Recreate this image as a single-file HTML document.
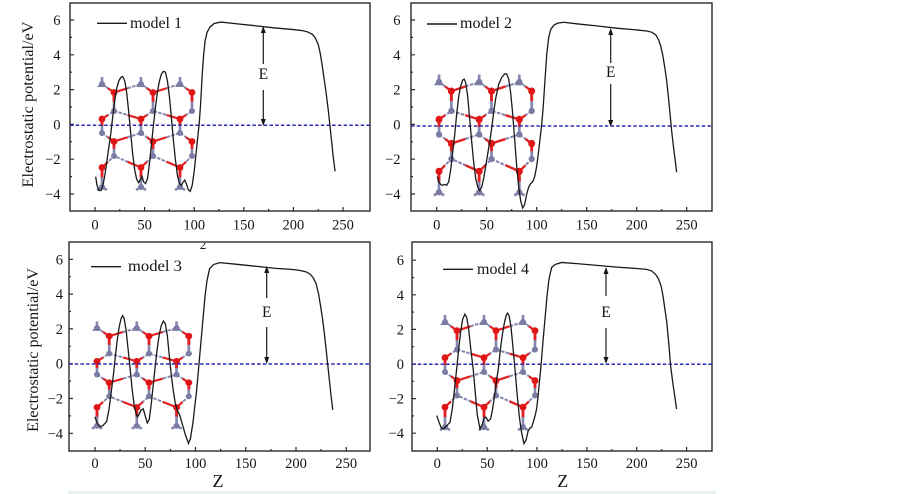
<!DOCTYPE html>
<html><head><meta charset="utf-8"><style>html,body{margin:0;padding:0;background:#fff;}svg{display:block}</style></head>
<body>
<svg width="903" height="494" viewBox="0 0 903 494" xmlns="http://www.w3.org/2000/svg" font-family="'Liberation Serif', serif" fill="#151515">
<defs>
<g id="mol">
<path d="M0,0 L12,8.5 L39,0 L51,8.5 L78,0 L90,8.5 M0,35 L12,27 L39,35 L51,27 L78,35 L90,27 M0,49 L12,57.5 L39,49 L51,57.5 L78,49 L90,57.5 M0,83.5 L12,72 L39,83.5 L51,72 L78,83.5 L90,72" fill="none" stroke="#8587b0" stroke-width="2" stroke-dasharray="3.5,1.3"/>
<path d="M12,8.5 V27 M51,8.5 V27 M90,8.5 V27 M0,35 V49 M39,35 V49 M78,35 V49 M12,57.5 V72 M51,57.5 V72 M90,57.5 V72 M0,83.5 V103 M39,83.5 V103 M78,83.5 V103 M0,0 V-7 M39,0 V-7 M78,0 V-7 M-5,106 L0,103 L5,106 M34,106 L39,103 L44,106 M73,106 L78,103 L83,106" fill="none" stroke="#8587b0" stroke-width="2.6"/>
<path d="M6,4.25 L12,8.5 L25.5,4.25 M45,4.25 L51,8.5 L64.5,4.25 M84,4.25 L90,8.5 M0,35 L6,31 M25.5,31 L39,35 L45,31 M64.5,31 L78,35 L84,31 M6,53.25 L12,57.5 L25.5,53.25 M45,53.25 L51,57.5 L64.5,53.25 M84,53.25 L90,57.5 M0,83.5 L6,77.75 M25.5,77.75 L39,83.5 L45,77.75 M64.5,77.75 L78,83.5 L84,77.75" fill="none" stroke="#e42020" stroke-width="2.2"/>
<path d="M12,8.5 V17.75 M51,8.5 V17.75 M90,8.5 V17.75 M0,35 V42 M39,35 V42 M78,35 V42 M12,57.5 V64.75 M51,57.5 V64.75 M90,57.5 V64.75 M0,83.5 V93.25 M39,83.5 V93.25 M78,83.5 V93.25" fill="none" stroke="#e42020" stroke-width="2.8"/>
<g fill="#7a7ca4">
<circle cx="0" cy="0" r="3"/><circle cx="39" cy="0" r="3"/><circle cx="78" cy="0" r="3"/>
<circle cx="12" cy="27" r="3"/><circle cx="51" cy="27" r="3"/><circle cx="90" cy="27" r="3"/>
<circle cx="0" cy="49" r="3"/><circle cx="39" cy="49" r="3"/><circle cx="78" cy="49" r="3"/>
<circle cx="12" cy="72" r="3"/><circle cx="51" cy="72" r="3"/><circle cx="90" cy="72" r="3"/>
<circle cx="0" cy="103" r="3"/><circle cx="39" cy="103" r="3"/><circle cx="78" cy="103" r="3"/>
<polygon points="-5,3 5,3 0,-3"/><polygon points="34,3 44,3 39,-3"/><polygon points="73,3 83,3 78,-3"/>
</g>
<g fill="#e01616">
<circle cx="12" cy="8.5" r="3.4"/><circle cx="51" cy="8.5" r="3.4"/><circle cx="90" cy="8.5" r="3.4"/>
<circle cx="0" cy="35" r="3.4"/><circle cx="39" cy="35" r="3.4"/><circle cx="78" cy="35" r="3.4"/>
<circle cx="12" cy="57.5" r="3.4"/><circle cx="51" cy="57.5" r="3.4"/><circle cx="90" cy="57.5" r="3.4"/>
<circle cx="0" cy="83.5" r="3.4"/><circle cx="39" cy="83.5" r="3.4"/><circle cx="78" cy="83.5" r="3.4"/>
</g>
</g>
<clipPath id="c2"><rect x="190" y="243" width="30" height="8"/></clipPath>
</defs>

<!-- ========== Panel 1 ========== -->
<rect x="70" y="3" width="300" height="208" fill="none" stroke="#2a2a2a" stroke-width="1.4"/>
<path d="M95,211V207 M144.6,211V207 M194.2,211V207 M243.8,211V207 M293.4,211V207 M343,211V207 M119.8,211V209 M169.4,211V209 M219,211V209 M268.6,211V209 M318.2,211V209 M70,20H74 M70,54.8H74 M70,89.6H74 M70,124.4H74 M70,159.2H74 M70,194H74 M70,37.4H72 M70,72.2H72 M70,107H72 M70,141.8H72 M70,176.6H72" stroke="#2a2a2a" stroke-width="1.2" fill="none"/>
<g font-size="14.5" text-anchor="end">
<text x="60.5" y="25">6</text><text x="60.5" y="59.8">4</text><text x="60.5" y="94.6">2</text><text x="60.5" y="129.4">0</text><text x="60.5" y="164.2">−2</text><text x="60.5" y="199">−4</text>
</g>
<g font-size="14.5" text-anchor="middle">
<text x="95" y="229.5">0</text><text x="144.6" y="229.5">50</text><text x="194.2" y="229.5">100</text><text x="243.8" y="229.5">150</text><text x="293.4" y="229.5">200</text><text x="343" y="229.5">250</text>
</g>
<text transform="translate(33,104.5) rotate(-90)" text-anchor="middle" font-size="15.5" textLength="166" lengthAdjust="spacingAndGlyphs">Electrostatic potential/eV</text>
<use href="#mol" transform="translate(102,84)"/>
<line x1="70" y1="125.3" x2="370" y2="125.3" stroke="#2b2bb5" stroke-width="1.5" stroke-dasharray="3.5,2.2"/>
<g transform="translate(95,124.4) scale(0.992,-17.4)">
<path fill="none" stroke="#1a1a1a" stroke-width="1.3" vector-effect="non-scaling-stroke" d="M0.7,-3.0 L2,-3.5 L4,-3.8 L6,-3.8 L8,-3.5 L10,-2.9 L12,-2.1 L14,-1.3 L16,-0.5 L18,0.5 L20,1.4 L22,2.1 L24,2.5 L26,2.7 L28,2.75 L30,2.5 L32,1.8 L34,0.7 L36,-0.5 L38,-1.7 L40,-2.6 L42,-3.15 L44,-3.35 L46,-3.15 L47.5,-3.0 L49,-3.3 L51,-3.4 L53,-3.1 L55,-2.2 L57,-1.1 L59,0 L61,1.0 L63,1.9 L65,2.5 L67,2.9 L69,3.05 L71,3.0 L73,2.5 L75,1.6 L77,0.4 L79,-0.9 L81,-2.0 L83,-2.9 L85,-3.4 L87,-3.5 L89,-3.3 L90.5,-3.2 L92,-3.4 L94,-3.75 L96,-3.85 L98,-3.5 L100,-2.7 L102,-1.6 L104,-0.5 L105,0 L106.5,1.2 L108,2.8 L109.5,4.0 L111,4.8 L113,5.3 L116,5.6 L120,5.8 L127,5.88 L140,5.8 L160,5.68 L180,5.55 L200,5.45 L210,5.38 L215,5.3 L219,5.18 L222,4.98 L225,4.6 L227,4.1 L229,3.4 L231,2.6 L233,1.8 L235,0.9 L236.5,0.1 L238,-0.7 L240,-1.8 L242,-2.7"/>
</g>
<line x1="97" y1="23.3" x2="127" y2="23.3" stroke="#1a1a1a" stroke-width="1.4"/>
<text x="130" y="28" font-size="15.5" textLength="52" lengthAdjust="spacingAndGlyphs">model 1</text>
<path d="M263.3,30V64 M263.3,90V122" stroke="#1a1a1a" stroke-width="1.2"/>
<polygon points="263.3,26 260.8,33 265.8,33"/><polygon points="263.3,126 260.8,119 265.8,119"/>
<text x="263.3" y="79" font-size="15.5" text-anchor="middle">E</text>

<!-- ========== Panel 2 ========== -->
<rect x="411" y="3" width="301" height="208" fill="none" stroke="#2a2a2a" stroke-width="1.4"/>
<path d="M436.7,211V207 M486.7,211V207 M536.7,211V207 M586.7,211V207 M636.7,211V207 M686.7,211V207 M461.7,211V209 M511.7,211V209 M561.7,211V209 M611.7,211V209 M661.7,211V209 M411,20H415 M411,54.8H415 M411,89.6H415 M411,124.4H415 M411,159.2H415 M411,194H415 M411,37.4H413 M411,72.2H413 M411,107H413 M411,141.8H413 M411,176.6H413" stroke="#2a2a2a" stroke-width="1.2" fill="none"/>
<g font-size="14.5" text-anchor="end">
<text x="400.5" y="25">6</text><text x="400.5" y="59.8">4</text><text x="400.5" y="94.6">2</text><text x="400.5" y="129.4">0</text><text x="400.5" y="164.2">−2</text><text x="400.5" y="199">−4</text>
</g>
<g font-size="14.5" text-anchor="middle">
<text x="436.7" y="229.5">0</text><text x="486.7" y="229.5">50</text><text x="536.7" y="229.5">100</text><text x="586.7" y="229.5">150</text><text x="636.7" y="229.5">200</text><text x="686.7" y="229.5">250</text>
</g>
<use href="#mol" transform="translate(439,82) scale(1.03,1.07)"/>
<line x1="411" y1="126" x2="712" y2="126" stroke="#2b2bb5" stroke-width="1.5" stroke-dasharray="3.5,2.2"/>
<g transform="translate(436.7,124.4) scale(1.0,-17.4)">
<path fill="none" stroke="#1a1a1a" stroke-width="1.3" vector-effect="non-scaling-stroke" d="M0.6,-3.0 L2,-3.3 L4,-3.45 L6,-3.5 L8,-3.45 L10,-3.5 L12,-3.3 L14,-2.6 L16,-1.6 L18,-0.6 L20,0.6 L22,1.6 L24,2.2 L26,2.55 L27.5,2.6 L29,2.4 L31,1.6 L33,0.3 L35,-1.0 L37,-2.2 L39,-3.1 L41,-3.6 L43,-3.8 L45,-3.6 L47,-3.1 L49,-2.4 L51,-1.7 L53,-1.0 L55,-0.2 L57,0.7 L59,1.5 L62,2.3 L65,2.7 L68,2.9 L70,2.9 L72,2.6 L74,1.8 L76,0.6 L78,-0.9 L80,-2.4 L82,-3.6 L84,-4.4 L86,-4.8 L88,-4.6 L90,-4.0 L92,-3.6 L94,-3.4 L96,-3.3 L98,-3.0 L100,-2.4 L102,-1.5 L104,-0.5 L105,0 L106.5,1.0 L108,2.3 L110,4.0 L112,5.0 L114,5.45 L117,5.7 L121,5.82 L127,5.87 L140,5.78 L160,5.66 L180,5.53 L200,5.43 L210,5.37 L215,5.3 L219,5.15 L222,4.85 L224,4.5 L226,4.0 L228,3.3 L230,2.5 L232,1.4 L233.5,0.5 L235,-0.4 L237,-1.4 L240,-2.75"/>
</g>
<line x1="427" y1="24" x2="457" y2="24" stroke="#1a1a1a" stroke-width="1.4"/>
<text x="460" y="28" font-size="15.5" textLength="52" lengthAdjust="spacingAndGlyphs">model 2</text>
<path d="M610.7,32V63 M610.7,84V123" stroke="#1a1a1a" stroke-width="1.2"/>
<polygon points="610.7,28 608.2,35 613.2,35"/><polygon points="610.7,127 608.2,120 613.2,120"/>
<text x="610.7" y="77" font-size="15.5" text-anchor="middle">E</text>

<!-- ========== Panel 3 ========== -->
<rect x="69" y="242" width="301" height="209" fill="none" stroke="#2a2a2a" stroke-width="1.4"/>
<path d="M95,451V447 M145.25,451V447 M195.5,451V447 M245.75,451V447 M296,451V447 M346.25,451V447 M120.1,451V449 M170.4,451V449 M220.6,451V449 M270.9,451V449 M321.1,451V449 M69,259.3H73 M69,294.1H73 M69,328.9H73 M69,363.7H73 M69,398.5H73 M69,433.3H73 M69,276.7H71 M69,311.5H71 M69,346.3H71 M69,381.1H71 M69,415.9H71" stroke="#2a2a2a" stroke-width="1.2" fill="none"/>
<g font-size="14.5" text-anchor="end">
<text x="63" y="264.3">6</text><text x="63" y="299.1">4</text><text x="63" y="333.9">2</text><text x="63" y="368.7">0</text><text x="63" y="403.5">−2</text><text x="63" y="438.3">−4</text>
</g>
<g font-size="14.5" text-anchor="middle">
<text x="95" y="468">0</text><text x="145.25" y="468">50</text><text x="195.5" y="468">100</text><text x="245.75" y="468">150</text><text x="296" y="468">200</text><text x="346.25" y="468">250</text>
</g>
<text x="218" y="487" font-size="18" text-anchor="middle">Z</text>
<text transform="translate(38,350) rotate(-90)" text-anchor="middle" font-size="15.5" textLength="164" lengthAdjust="spacingAndGlyphs">Electrostatic potential/eV</text>
<text x="203" y="249" font-size="13" text-anchor="middle" clip-path="url(#c2)">2</text>
<use href="#mol" transform="translate(97,328) scale(1.02,0.95)"/>
<line x1="69" y1="364" x2="370" y2="364" stroke="#2b2bb5" stroke-width="1.5" stroke-dasharray="3.5,2.2"/>
<g transform="translate(95,363.7) scale(1.005,-17.4)">
<path fill="none" stroke="#1a1a1a" stroke-width="1.3" vector-effect="non-scaling-stroke" d="M-0.1,-3.05 L2,-3.4 L4.9,-3.62 L8,-3.55 L11.5,-3.33 L14,-2.6 L16,-1.7 L18.3,-0.65 L20,0.3 L22,1.3 L24,2.1 L26,2.6 L27.5,2.76 L29,2.6 L31,1.9 L33,0.8 L35,-0.3 L37,-1.5 L39,-2.4 L41,-2.9 L42.3,-3.05 L44,-2.9 L46,-2.65 L48,-2.6 L50,-3.0 L52,-3.4 L54,-3.2 L56,-2.3 L58,-1.2 L60,-0.1 L62,0.9 L64,1.7 L66,2.2 L68,2.45 L70,2.3 L72,1.6 L74,0.4 L76,-0.7 L78,-1.6 L80,-2.3 L82,-2.7 L84.3,-2.95 L87,-3.5 L90,-4.1 L93,-4.58 L95,-4.3 L97.6,-3.33 L99,-2.6 L101,-1.6 L103.5,0 L105.5,1.3 L107.5,2.6 L109.5,3.9 L111.5,4.8 L114,5.45 L118,5.7 L124,5.81 L140,5.72 L160,5.6 L180,5.48 L195,5.42 L203,5.37 L210,5.28 L214,5.15 L217,4.95 L220,4.6 L222.5,4.0 L224.5,3.3 L226.6,2.5 L228.5,1.6 L230,0.8 L231.6,-0.07 L233.5,-1.1 L235,-1.9 L236.6,-2.66"/>
</g>
<line x1="91" y1="266.7" x2="121" y2="266.7" stroke="#1a1a1a" stroke-width="1.4"/>
<text x="128" y="271" font-size="15.5" textLength="54" lengthAdjust="spacingAndGlyphs">model 3</text>
<path d="M266.7,270V298 M266.7,327V360" stroke="#1a1a1a" stroke-width="1.2"/>
<polygon points="266.7,266 264.2,273 269.2,273"/><polygon points="266.7,364 264.2,357 269.2,357"/>
<text x="266.7" y="317" font-size="15.5" text-anchor="middle">E</text>

<!-- ========== Panel 4 ========== -->
<rect x="412" y="242" width="300" height="209" fill="none" stroke="#2a2a2a" stroke-width="1.4"/>
<path d="M437.3,451V447 M487.2,451V447 M537,451V447 M586.9,451V447 M636.7,451V447 M686.6,451V447 M462.2,451V449 M512.1,451V449 M562,451V449 M611.8,451V449 M661.7,451V449 M412,260.2H416 M412,294.8H416 M412,329.4H416 M412,364H416 M412,398.6H416 M412,433.2H416 M412,277.5H414 M412,312.1H414 M412,346.7H414 M412,381.3H414 M412,415.9H414" stroke="#2a2a2a" stroke-width="1.2" fill="none"/>
<g font-size="14.5" text-anchor="end">
<text x="404" y="265.2">6</text><text x="404" y="299.8">4</text><text x="404" y="334.4">2</text><text x="404" y="369">0</text><text x="404" y="403.6">−2</text><text x="404" y="438.2">−4</text>
</g>
<g font-size="14.5" text-anchor="middle">
<text x="437.3" y="468">0</text><text x="487.2" y="468">50</text><text x="537" y="468">100</text><text x="586.9" y="468">150</text><text x="636.7" y="468">200</text><text x="686.6" y="468">250</text>
</g>
<text x="562.7" y="487" font-size="18" text-anchor="middle">Z</text>
<use href="#mol" transform="translate(445,322) scale(1.0,1.02)"/>
<line x1="412" y1="364.3" x2="712" y2="364.3" stroke="#2b2bb5" stroke-width="1.5" stroke-dasharray="3.5,2.2"/>
<g transform="translate(437.3,364) scale(0.997,-17.3)">
<path fill="none" stroke="#1a1a1a" stroke-width="1.3" vector-effect="non-scaling-stroke" d="M-0.6,-2.98 L2,-3.4 L4,-3.7 L6,-3.75 L9,-3.6 L12.7,-3.37 L15,-2.6 L17,-1.6 L19.4,-0.29 L21.5,0.9 L23.5,1.9 L25.5,2.6 L27.7,2.88 L29.5,2.7 L31.5,2.0 L33.5,0.9 L36,-0.29 L38,-1.6 L40,-2.9 L42.8,-3.75 L45,-3.5 L47,-3.1 L48.8,-3.08 L51,-3.3 L53.5,-3.17 L55.5,-2.6 L57.5,-1.8 L59.5,-0.9 L61.2,-0.29 L63,0.7 L65,1.6 L67,2.3 L69,2.8 L70.5,2.94 L72,2.8 L74,2.1 L76,0.9 L77.9,-0.29 L80,-1.7 L82,-2.9 L84,-3.8 L86.9,-4.6 L89,-4.4 L91,-3.9 L93,-3.7 L94.6,-3.65 L96,-3.4 L98,-3.0 L99.6,-2.6 L101,-1.9 L102.5,-1.0 L104,-0.1 L106,1.3 L108,2.6 L110,3.9 L112,4.9 L114.7,5.58 L118,5.75 L124.7,5.87 L140,5.8 L160,5.7 L180,5.6 L200,5.52 L210,5.47 L215,5.38 L219,5.18 L222,4.9 L224.5,4.5 L226.5,3.9 L228.2,3.2 L230,2.5 L232,1.3 L234,-0.1 L236,-1.0 L238,-1.8 L240,-2.6"/>
</g>
<line x1="443" y1="269.3" x2="473" y2="269.3" stroke="#1a1a1a" stroke-width="1.4"/>
<text x="477" y="274" font-size="15.5" textLength="52" lengthAdjust="spacingAndGlyphs">model 4</text>
<path d="M606,271V296 M606,328V360" stroke="#1a1a1a" stroke-width="1.2"/>
<polygon points="606,267 603.5,274 608.5,274"/><polygon points="606,364 603.5,357 608.5,357"/>
<text x="606" y="317" font-size="15.5" text-anchor="middle">E</text>

<rect x="68" y="491" width="648" height="3" fill="#e9f2f2"/>
</svg>
</body></html>
